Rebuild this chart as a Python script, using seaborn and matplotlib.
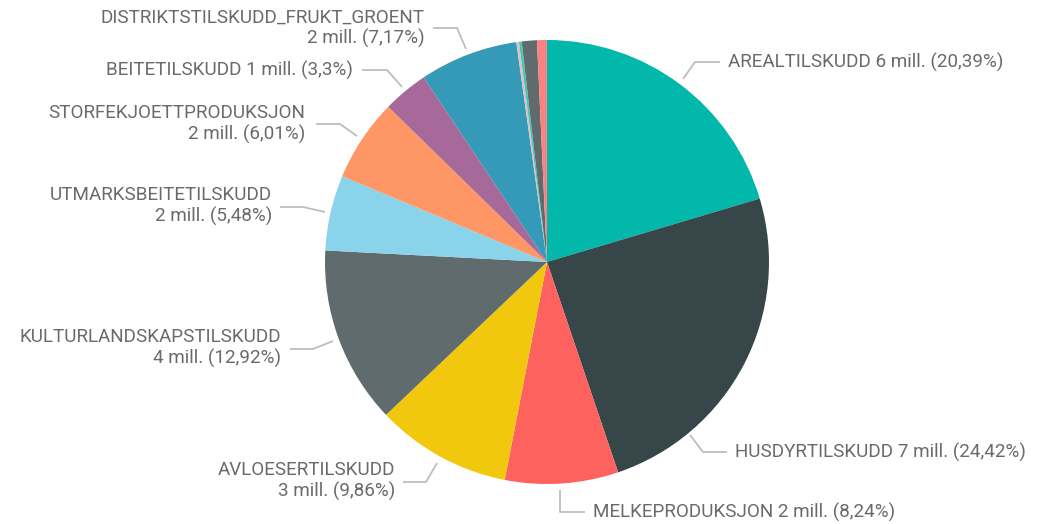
import matplotlib
matplotlib.use("Agg")
import matplotlib.pyplot as plt
import seaborn as sns

# ---- data ----
categories = [
    "AREALTILSKUDD", "HUSDYRTILSKUDD", "MELKEPRODUKSJON", "AVLOESERTILSKUDD",
    "KULTURLANDSKAPSTILSKUDD", "UTMARKSBEITETILSKUDD", "STORFEKJOETTPRODUKSJON",
    "BEITETILSKUDD", "DISTRIKTSTILSKUDD_FRUKT_GROENT",
    "ØVRIG_1", "ØVRIG_2", "ØVRIG_3", "ØVRIG_4",
]
percent = [20.39, 24.42, 8.24, 9.86, 12.92, 5.48, 6.01, 3.30, 7.17, 0.19, 0.20, 1.10, 0.72]
millions = [6, 7, 2, 3, 4, 2, 2, 1, 2, 0, 0, 0, 0]
pct_text = ["20,39", "24,42", "8,24", "9,86", "12,92", "5,48", "6,01", "3,3", "7,17", "", "", "", ""]
colors = ["#01B8AA", "#374649", "#FD625E", "#F2C80F", "#5F6B6D", "#8AD4EB", "#FE9666",
          "#A66999", "#3599B8", "#DFBFBF", "#4AC5BB", "#5F6B6D", "#FB8281"]

# ---- layout (pixel coordinates, y from top) ----
W, H = 1038, 524
CX, CY, R = 547, 262, 222
# label index -> (text anchor x, text y, ha, two-line?, leader points)
label_layout = {
    0: (728, 62, "left", False, [(683, 79), (695, 62), (720, 62)]),
    1: (735, 452, "left", False, [(690, 435), (703, 452), (727, 452)]),
    2: (593, 512, "left", False, [(560, 490), (560, 512), (585, 512)]),
    3: (395, 481, "right", True, [(437, 463), (426, 482), (403, 482)]),
    4: (281, 348, "right", True, [(333, 341), (313, 349), (290, 349)]),
    5: (272, 206, "right", True, [(325, 212), (303, 207), (280, 207)]),
    6: (305, 124, "right", True, [(357, 136), (340, 124), (316, 124)]),
    7: (353, 70, "right", False, [(402, 87), (387, 70), (362, 70)]),
    8: (425, 28, "right", True, [(466, 49), (457, 28), (433, 28)]),
}

sns.set_theme(style="white")
plt.rcParams["font.family"] = ["Roboto", "DejaVu Sans"]

fig = plt.figure(figsize=(W / 100, H / 100), dpi=100)
ax = fig.add_axes([0, 0, 1, 1])
palette = sns.color_palette(colors)

ax.pie(percent, colors=palette, startangle=90, counterclock=False,
       center=(CX, H - CY), radius=R, wedgeprops=dict(linewidth=0))
ax.set_xlim(0, W)
ax.set_ylim(0, H)
ax.set_aspect("equal")
ax.axis("off")

text_color = "#6a6a6a"
line_color = "#bdbdbd"
fs = 13.6
for i, (tx, ty, ha, two, pts) in label_layout.items():
    xs = [p[0] for p in pts]
    ys = [H - p[1] for p in pts]
    ax.plot(xs, ys, color=line_color, lw=1.3, solid_capstyle="butt")
    name = categories[i]
    val = f"{millions[i]} mill. ({pct_text[i]}%)"
    if two:
        txt = f"{name}\n{val}"
    else:
        txt = f"{name} {val}"
    ax.text(tx, H - ty, txt, ha=ha, va="center", fontsize=fs, color=text_color,
            multialignment=ha, linespacing=1.15)

fig.savefig("out.png", dpi=100)
